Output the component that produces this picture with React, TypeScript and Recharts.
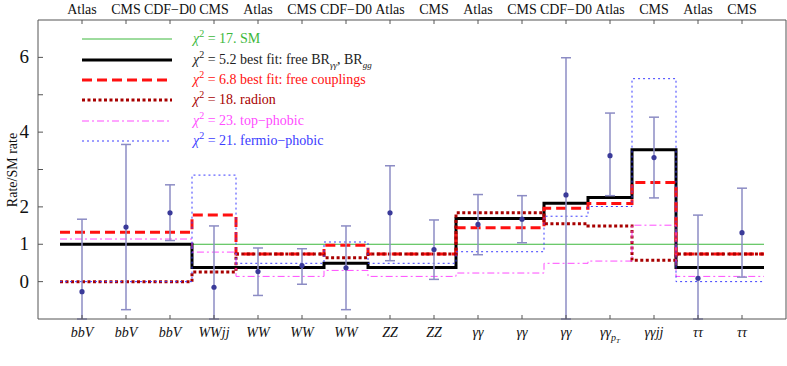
import React from "react";
import { ComposedChart, Line, Scatter, ErrorBar, XAxis, YAxis } from "recharts";

// experiment above each channel
const experiments = ["Atlas", "CMS", "CDF−D0", "CMS", "Atlas", "CMS", "CDF−D0", "Atlas", "CMS", "Atlas", "CMS", "CDF−D0", "Atlas", "CMS", "Atlas", "CMS"];
const channels = ["bbV", "bbV", "bbV", "WWjj", "WW", "WW", "WW", "ZZ", "ZZ", "γγ", "γγ", "γγ", "γγ", "γγjj", "ττ", "ττ"];
const channelSub = ["", "", "", "", "", "", "", "", "", "", "", "", "pT", "", "", ""];

// measured rate / SM rate with 1 sigma range (lower ends past the frame cut at -1)
const measured = [-0.27, 1.46, 1.84, -0.15, 0.27, 0.43, 0.37, 1.84, 0.86, 1.53, 1.67, 2.32, 3.37, 3.32, 0.09, 1.31];
const lowEnd = [-1, -0.75, 1.1, -1, -0.37, -0.07, -0.75, 0.56, 0.06, 0.72, 1.04, -1, 2.3, 2.24, -1, 0.12];
const highEnd = [1.67, 3.67, 2.59, 1.49, 0.9, 0.88, 1.49, 3.1, 1.65, 2.33, 2.3, 5.99, 4.51, 4.4, 1.78, 2.5];

// model predictions per channel
const sm = [1, 1, 1, 1, 1, 1, 1, 1, 1, 1, 1, 1, 1, 1, 1, 1];
const bestFitBR = [1, 1, 1, 0.38, 0.38, 0.38, 0.49, 0.38, 0.38, 1.69, 1.69, 2.1, 2.25, 3.53, 0.38, 0.38];
const freeCouplings = [1.32, 1.32, 1.32, 1.78, 0.74, 0.74, 0.97, 0.74, 0.74, 1.44, 1.44, 1.96, 2.09, 2.65, 0.74, 0.74];
const radion = [0, 0, 0, 0.26, 0.74, 0.74, 0.64, 0.74, 0.74, 1.84, 1.84, 1.55, 1.49, 0.57, 0.74, 0.74];
const topPhobic = [1.14, 1.14, 1.14, 0.79, 0.14, 0.14, 0.3, 0.14, 0.14, 0.23, 0.23, 0.49, 0.55, 1.51, 0.14, 0.14];
const fermioPhobic = [0, 0, 0, 2.85, 0.49, 0.49, 1.06, 0.49, 0.49, 0.8, 0.8, 1.75, 2.01, 5.43, 0, 0];

const xTicks = channels.map((_, i) => i + 1);
const FONT = "'Liberation Serif', 'Times New Roman', serif";

const stepData = (vals: number[]) =>
  vals.concat([vals[vals.length - 1]]).map((v, i) => ({ x: i + 0.5, v }));

const points = measured.map((m, i) => ({ x: i + 1, y: m, err: [m - lowEnd[i], highEnd[i] - m] }));

const models = [
  { name: "17. SM", vals: sm, color: "#3cb83c", width: 1, dash: undefined },
  { name: "5.2 best fit: free BR", vals: bestFitBR, color: "#000000", width: 3, dash: undefined },
  { name: "6.8 best fit: free couplings", vals: freeCouplings, color: "#ff1010", width: 3, dash: "10 5" },
  { name: "18. radion", vals: radion, color: "#a80000", width: 3, dash: "3 2.5" },
  { name: "23. top−phobic", vals: topPhobic, color: "#ff4cff", width: 1, dash: "7 3 2 3" },
  { name: "21. fermio−phobic", vals: fermioPhobic, color: "#3c3cff", width: 1, dash: "2 3" },
];

const TopTick = (props: any) => {
  const { x, y, payload } = props;
  return (
    <text x={x} y={y} textAnchor="middle" fontSize={14} fill="#111" fontFamily={FONT}>
      {experiments[payload.value - 1]}
    </text>
  );
};

const BottomTick = (props: any) => {
  const { x, y, payload } = props;
  const i = payload.value - 1;
  return (
    <text x={x} y={y + 22} textAnchor="middle" fontSize={14} fontStyle="italic" fill="#111" fontFamily={FONT}>
      {channels[i]}
      {channelSub[i] ? (
        <tspan fontSize={10} dy={4}>
          p<tspan fontSize={7} dy={2}>T</tspan>
        </tspan>
      ) : null}
    </text>
  );
};

const LeftTick = (props: any) => {
  const { x, y, payload } = props;
  if (payload.value === 3 || payload.value === 5) return null;
  return (
    <text x={x} y={y + 6} textAnchor="end" fontSize={19} fill="#111" fontFamily={FONT}>
      {payload.value}
    </text>
  );
};

const LegendBox = () => (
  <div style={{ position: "absolute", left: 82, top: 29, fontFamily: FONT, fontSize: 14 }}>
    {models.map((m, i) => (
      <div key={i} style={{ display: "flex", alignItems: "center", height: 20.4 }}>
        <svg width={90} height={8} style={{ display: "block" }}>
          <line x1={0} y1={4} x2={90} y2={4} stroke={m.color} strokeWidth={m.width} strokeDasharray={m.dash} />
        </svg>
        <span style={{ marginLeft: 21, color: m.color === "#000000" ? "#222" : m.color, whiteSpace: "nowrap", lineHeight: "16px" }}>
          <i>χ</i>
          <sup style={{ fontSize: 10, lineHeight: 0 }}>2</sup> = {m.name}
          {i === 1 ? (
            <>
              <sub style={{ fontSize: 9, fontStyle: "italic", lineHeight: 0 }}>γγ</sub>, BR
              <sub style={{ fontSize: 9, fontStyle: "italic", lineHeight: 0 }}>gg</sub>
            </>
          ) : null}
        </span>
      </div>
    ))}
  </div>
);

const App = () => {
  return (
    <div style={{ position: "absolute", left: 0, top: 0, width: 787, height: 366, background: "#fff" }}>
      <ComposedChart width={787} height={366} margin={{ top: 0, right: 0, bottom: 0, left: 0 }}>
        <XAxis
          xAxisId="bottom"
          dataKey="x"
          type="number"
          domain={[0, 17]}
          ticks={xTicks}
          allowDataOverflow
          height={47}
          tickSize={-4}
          tickMargin={0}
          stroke="#555"
          tick={<BottomTick />}
        />
        <XAxis
          xAxisId="top"
          orientation="top"
          dataKey="x"
          type="number"
          domain={[0, 17]}
          ticks={xTicks}
          allowDataOverflow
          height={20}
          tickSize={-4}
          tickMargin={10}
          stroke="#555"
          tick={<TopTick />}
        />
        <YAxis
          yAxisId="left"
          type="number"
          domain={[-1, 7]}
          ticks={[0, 1, 2, 3, 4, 5, 6]}
          allowDataOverflow
          width={38}
          tickSize={-5}
          tickMargin={14}
          stroke="#555"
          tick={<LeftTick />}
          label={{
            content: () => (
              <text x={17} y={170} transform="rotate(-90 17 170)" textAnchor="middle" fontSize={14} fill="#111" fontFamily={FONT}>
                Rate/SM rate
              </text>
            ),
          }}
        />
        <YAxis
          yAxisId="right"
          orientation="right"
          type="number"
          domain={[-1, 7]}
          ticks={[-0.5, 0, 0.5, 1, 1.5, 2, 2.5, 3, 3.5, 4, 4.5, 5, 5.5, 6, 6.5]}
          allowDataOverflow
          width={1}
          tickSize={-4}
          stroke="#555"
          tick={false}
        />
        {models.map((m, i) => (
          <Line
            key={i}
            xAxisId="bottom"
            yAxisId="left"
            data={stepData(m.vals)}
            dataKey="v"
            type="stepAfter"
            stroke={m.color}
            strokeWidth={m.width}
            strokeDasharray={m.dash}
            dot={false}
            activeDot={false}
            isAnimationActive={false}
          />
        ))}
        <Scatter
          xAxisId="bottom"
          yAxisId="left"
          data={points}
          dataKey="y"
          fill="#3a3a99"
          shape={(p: any) => <circle cx={p.cx} cy={p.cy} r={2.6} fill="#3a3a99" />}
          isAnimationActive={false}
        >
          <ErrorBar dataKey="err" direction="y" width={5} stroke="#8c8cc4" strokeWidth={1.5} isAnimationActive={false} />
        </Scatter>
      </ComposedChart>
      <LegendBox />
    </div>
  );
};

export default App;
